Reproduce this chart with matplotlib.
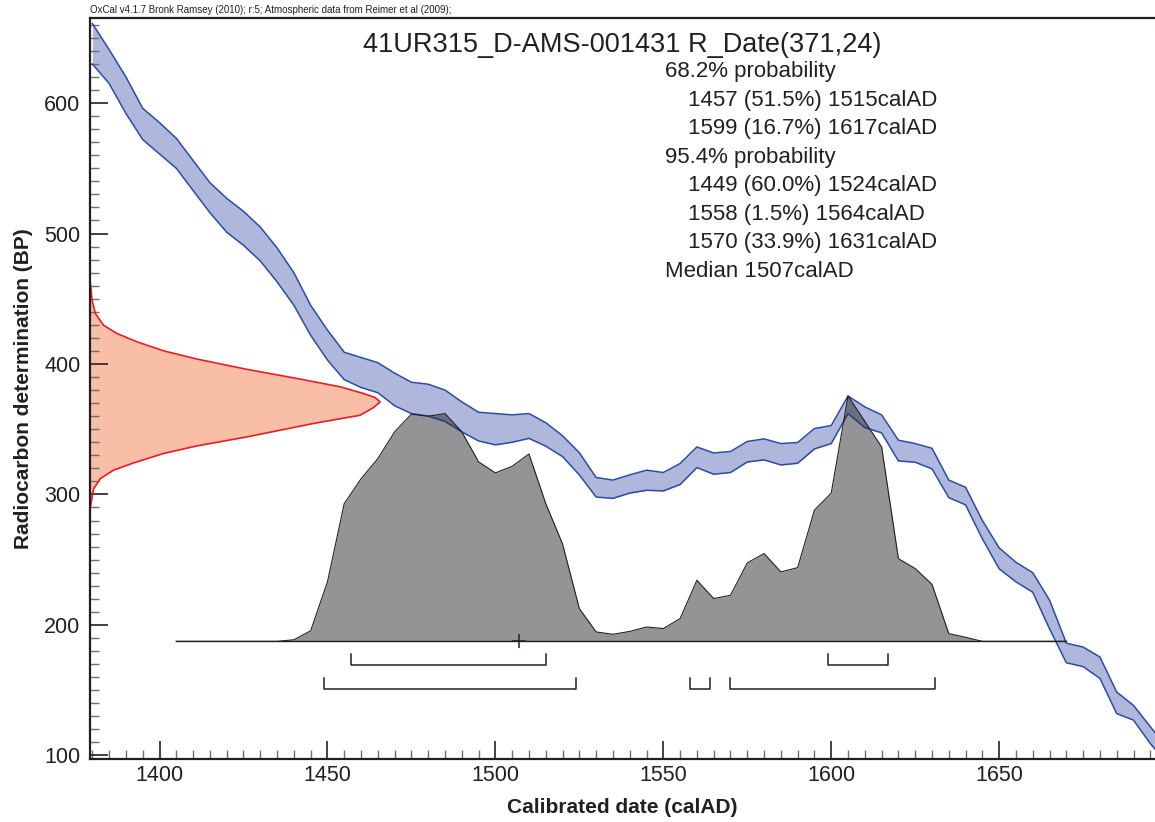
import matplotlib
matplotlib.use('Agg')
import matplotlib.pyplot as plt
from matplotlib.ticker import MultipleLocator

plt.rcParams['font.family'] = ['Liberation Sans', 'DejaVu Sans']

# calibration curve (IntCal09), 1-sigma band, BP
curve_years = [1380, 1385, 1390, 1395, 1400, 1405, 1410, 1415, 1420, 1425,
               1430, 1435, 1440, 1445, 1450, 1455, 1460, 1465, 1470, 1475,
               1480, 1485, 1490, 1495, 1500, 1505, 1510, 1515, 1520, 1525,
               1530, 1535, 1540, 1545, 1550, 1555, 1560, 1565, 1570, 1575,
               1580, 1585, 1590, 1595, 1600, 1605, 1610, 1615, 1620, 1625,
               1630, 1635, 1640, 1645, 1650, 1655, 1660, 1665, 1670, 1675,
               1680, 1685, 1690, 1695, 1700]
curve_upper = [661, 641, 620, 596, 585, 573, 556, 539, 527, 517,
               505, 489, 470, 445, 426, 409, 405, 401, 393, 386,
               384.5, 380, 371, 363, 362, 361, 362, 355, 345, 332,
               313, 311, 315, 318.6, 316.8, 323.7, 336.4, 331.8, 332.9, 340.6,
               342.6, 339, 339.8, 350.5, 352.8, 375.5, 367.1, 361, 341.6, 339,
               335.4, 311, 305.5, 280, 259, 248, 240, 219, 186, 183,
               175.4, 148.5, 138.3, 122, 106]
curve_lower = [630, 615, 592, 572, 561, 550, 533, 516, 501, 491,
               479, 463, 445, 422, 403, 388, 382, 378, 368, 362,
               360, 356, 348, 341, 338, 340, 343, 337, 329, 315,
               298, 297, 301, 303.2, 302.7, 307.6, 320.6, 315.5, 316.8, 324.9,
               326.5, 322.6, 323.9, 334.9, 339, 362, 351.3, 347.2, 325.7, 324.7,
               319.6, 297.6, 292, 266, 243, 233, 225, 197, 171, 168,
               159, 132, 127, 109, 94]

rdate_bp = [462, 449, 438.7, 429.8, 423.4, 417, 410.1, 403.8, 395.9, 388.9,
            382.5, 377.4, 374.3, 370.9, 366.6, 360.7, 354.4, 344.1, 337.2,
            331.4, 324.2, 318.6, 312.2, 304.5, 290.4, 275]
rdate_x = [1379.4, 1379.9, 1380.9, 1383.3, 1387.3, 1393.3, 1401.2, 1411.1,
           1426, 1440.9, 1453.8, 1460.7, 1464.2, 1465.7, 1463.7, 1459.7,
           1445.8, 1426, 1411.1, 1401.2, 1392.3, 1386.3, 1382.4, 1380.4,
           1379.4, 1379.2]

# calibrated distribution (top edge, BP scale)
post_years = [1405, 1410, 1415, 1420, 1425, 1430, 1435, 1440, 1445, 1450,
              1455, 1460, 1465, 1470, 1475, 1480, 1485, 1490, 1495, 1500,
              1505, 1510, 1515, 1520, 1525, 1530, 1535, 1540, 1545, 1550,
              1555, 1560, 1565, 1570, 1575, 1580, 1585, 1590, 1595, 1600,
              1605, 1610, 1615, 1620, 1625, 1630, 1635, 1640, 1645, 1650,
              1655, 1660, 1665, 1670]
post_top = [187.4, 187.4, 187.4, 187.4, 187.4, 187.4, 187.4, 188.6, 195.5, 233,
            293, 312, 327.5, 348, 361.5, 360, 362, 348, 325, 316.5,
            321.6, 331, 293, 262, 212.5, 194.6, 192.8, 195, 198.4, 197.2,
            204.8, 234.2, 220.2, 222.7, 247.5, 254.7, 240.6, 243.9, 288, 301,
            375.5, 356, 336.4, 250.8, 243.2, 231.1, 193.3, 190.5, 187.4, 187.4,
            187.4, 187.4, 187.4, 187.4]
post_base = 187.4
median = 1507

range68 = [(1457, 1515), (1599, 1617)]
range95 = [(1449, 1524), (1558, 1564), (1570, 1631)]

title = '41UR315_D-AMS-001431 R_Date(371,24)'
caption = 'OxCal v4.1.7 Bronk Ramsey (2010); r:5; Atmospheric data from Reimer et al (2009);'
info_lines = [('68.2% probability', 0),
              ('1457 (51.5%) 1515calAD', 1),
              ('1599 (16.7%) 1617calAD', 1),
              ('95.4% probability', 0),
              ('1449 (60.0%) 1524calAD', 1),
              ('1558 (1.5%) 1564calAD', 1),
              ('1570 (33.9%) 1631calAD', 1),
              ('Median 1507calAD', 0)]

W, H = 1155, 822
XLIM = (1379.3, 1696.4)
YLIM = (97.2, 665.0)
TXT = '#231F20'

fig = plt.figure(figsize=(W / 100, H / 100), dpi=100)
ax = fig.add_axes([90 / W, 1 - 759 / H, (W - 90) / W, (759 - 18.3) / H])
ax.set_xlim(*XLIM)
ax.set_ylim(*YLIM)

# calibration curve band
ax.fill_between(curve_years, curve_lower, curve_upper, color='#B0B7DC', lw=0, zorder=1)
ax.plot(curve_years, curve_upper, color='#2B4BA5', lw=1.1, zorder=2)
ax.plot(curve_years, curve_lower, color='#2B4BA5', lw=1.1, zorder=2)

# radiocarbon measurement
ax.fill_betweenx(rdate_bp, XLIM[0], rdate_x, color='#F9BFA6', lw=0, zorder=1)
ax.plot(rdate_x, rdate_bp, color='#ED1C24', lw=1.2, zorder=2)

# calibrated distribution (semi-transparent dark so the curve shows through)
ax.fill_between(post_years, post_base, post_top, color='#2A2A30', alpha=0.5, lw=0, zorder=3)
ax.plot(post_years, post_top, color='#231F20', lw=0.8, zorder=4)
ax.plot([post_years[0], post_years[-1]], [post_base, post_base], color='#231F20', lw=1.0, zorder=4)
ax.plot([median], [post_base], marker='+', ms=10, mew=1.1, color='#231F20', zorder=5)

# range brackets
def bracket(lo, hi, y, h):
    ax.plot([lo, lo, hi, hi], [y + h, y, y, y + h], color='#231F20', lw=1.1, zorder=4)

for lo, hi in range68:
    bracket(lo, hi, post_base - 18.4, 9)
for lo, hi in range95:
    bracket(lo, hi, post_base - 36.8, 9)

# axes styling
ax.spines['right'].set_visible(False)
for s in ['left', 'bottom', 'top']:
    ax.spines[s].set_linewidth(1.6)
    ax.spines[s].set_color(TXT)

ax.xaxis.set_major_locator(MultipleLocator(50))
ax.xaxis.set_minor_locator(MultipleLocator(5))
ax.yaxis.set_major_locator(MultipleLocator(100))
ax.yaxis.set_minor_locator(MultipleLocator(10))
ax.tick_params(which='major', direction='in', length=13, width=1.2, color=TXT,
               labelsize=15.5, labelcolor=TXT)
ax.tick_params(which='minor', direction='in', length=6.5, width=1.0, color='#6D6E71')
ax.tick_params(axis='x', which='major', pad=4)
ax.tick_params(axis='y', which='major', pad=7)
ax.tick_params(top=False, right=False, which='both')

ax.set_xlabel('Calibrated date (calAD)', fontsize=15, fontweight='bold', color=TXT, labelpad=9)
ax.set_ylabel('Radiocarbon determination (BP)', fontsize=15, fontweight='bold', color=TXT, labelpad=8)

fig.text(622.5 / W, 1 - 45 / H, title, ha='center', va='center', fontsize=19.5, color=TXT)
fig.text(90 / W, 1 - 10 / H, caption, ha='left', va='center', fontsize=7, color=TXT)

for i, (line, indent) in enumerate(info_lines):
    x = 665 if indent == 0 else 688
    fig.text(x / W, 1 - (72 + 28.45 * i) / H, line, ha='left', va='center',
             fontsize=16, color=TXT)

fig.savefig('out.png', dpi=100)
